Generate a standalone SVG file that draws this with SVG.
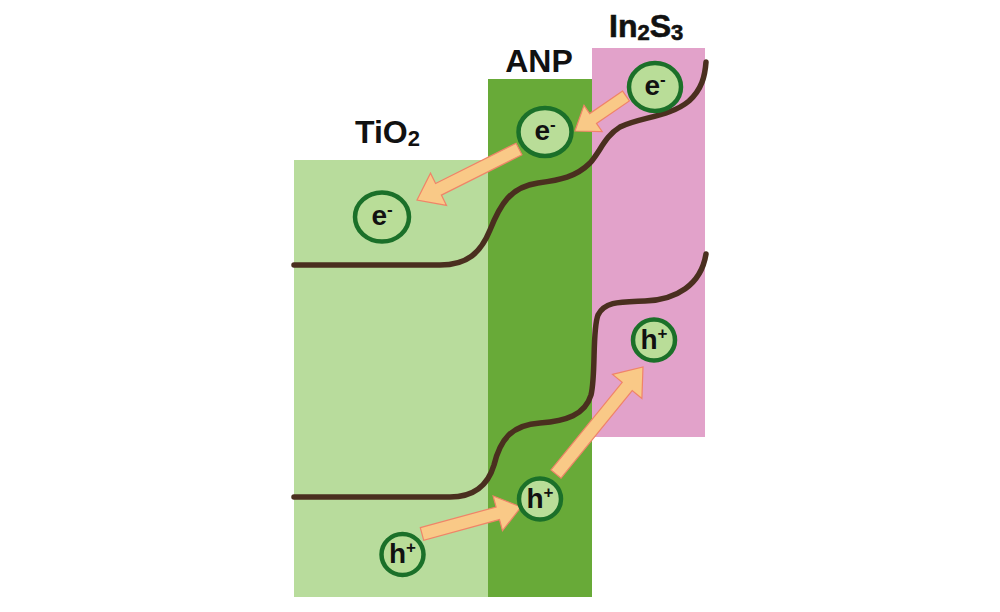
<svg xmlns="http://www.w3.org/2000/svg" width="1000" height="612" viewBox="0 0 1000 612">
  <style>
    .lbl { font-family: "Liberation Sans", Arial, sans-serif; font-weight: bold; font-size: 32px; fill: #111; }
    .ctext { font-family: "Liberation Sans", Arial, sans-serif; font-weight: bold; font-size: 28px; fill: #111; text-anchor: middle; }
    .sup { font-size: 17px; }
    .carrier { fill: #b9dd98; stroke: #1b7029; stroke-width: 4.5; }
    .band { fill: none; stroke: #4a2f1f; stroke-width: 5.5; stroke-linecap: round; }
    .arrow { fill: #f9c987; stroke: #f08468; stroke-width: 1.2; stroke-linejoin: miter; }
  </style>
  <rect width="1000" height="612" fill="#ffffff"/>

  <g id="layer-TiO2">
    <rect x="294" y="160" width="195" height="437" fill="#b8dc9c"/>
    <text class="lbl" x="355" y="143">TiO<tspan font-size="22" dy="3">2</tspan></text>
  </g>
  <g id="layer-ANP">
    <rect x="488" y="79" width="104" height="518" fill="#68aa38"/>
    <text class="lbl" x="539" y="72" text-anchor="middle">ANP</text>
  </g>
  <g id="layer-In2S3">
    <rect x="592" y="48" width="113" height="389" fill="#e2a2ca"/>
    <text class="lbl" x="609" y="37" font-weight="normal" stroke="#111" stroke-width="0.6">In<tspan font-size="22" dy="3">2</tspan><tspan dy="-3">S</tspan><tspan font-size="22" dy="3">3</tspan></text>
  </g>

  <g id="connectors">
    <path id="conduction-band" class="band" d="M294,265 L440,265 C468,265 481,252 490,230 C500,205 510,187 538,183 C560,180 576,177 590,163 C600,152 605,136 620,127 C640,117 670,117 689,101 C702,89 705,76 706,62"/>
    <path id="valence-band" class="band" d="M294,497 L450,497 C475,497 488,485 494,465 C500,440 511,425 540,423 C566,421 585,415 591,395 C596,375 592,330 598,315 C605,301 621,302 645,301 C676,300 701,285 706,254"/>
    <polygon id="arrow-e1" class="arrow" points="622.6,91.1 589.7,113.6 584.0,105.3 575,131 602.2,131.7 596.5,123.4 629.4,100.9"/>
    <polygon id="arrow-e2" class="arrow" points="516.1,143.2 435.6,183.5 430.5,173.2 417,200 446.5,205.4 441.4,195.1 521.9,154.8"/>
    <polygon id="arrow-h1" class="arrow" points="420.3,527.7 496.1,507.0 493.1,495.9 521,507 502.5,530.7 499.5,519.6 423.7,540.3"/>
    <polygon id="arrow-h2" class="arrow" points="551.0,469.9 622.2,382.3 612.5,374.4 643,367 641.9,398.4 632.2,390.5 561.0,478.1"/>
  </g>

  <g id="e-In2S3">
    <ellipse class="carrier" cx="655" cy="87" rx="26" ry="24"/>
    <text class="ctext" x="655" y="95">e<tspan class="sup" dy="-10">-</tspan></text>
  </g>
  <g id="e-ANP">
    <ellipse class="carrier" cx="545" cy="132" rx="26.5" ry="24"/>
    <text class="ctext" x="545" y="140">e<tspan class="sup" dy="-10">-</tspan></text>
  </g>
  <g id="e-TiO2">
    <ellipse class="carrier" cx="382" cy="217" rx="27" ry="24.5"/>
    <text class="ctext" x="382" y="225">e<tspan class="sup" dy="-10">-</tspan></text>
  </g>
  <g id="h-In2S3">
    <ellipse class="carrier" cx="654" cy="340" rx="21" ry="20.5"/>
    <text class="ctext" x="654" y="349">h<tspan class="sup" dy="-10">+</tspan></text>
  </g>
  <g id="h-ANP">
    <ellipse class="carrier" cx="540" cy="499" rx="21" ry="20.5"/>
    <text class="ctext" x="540" y="508">h<tspan class="sup" dy="-10">+</tspan></text>
  </g>
  <g id="h-TiO2">
    <ellipse class="carrier" cx="402.5" cy="554.5" rx="21" ry="20.5"/>
    <text class="ctext" x="402.5" y="563">h<tspan class="sup" dy="-10">+</tspan></text>
  </g>
</svg>
